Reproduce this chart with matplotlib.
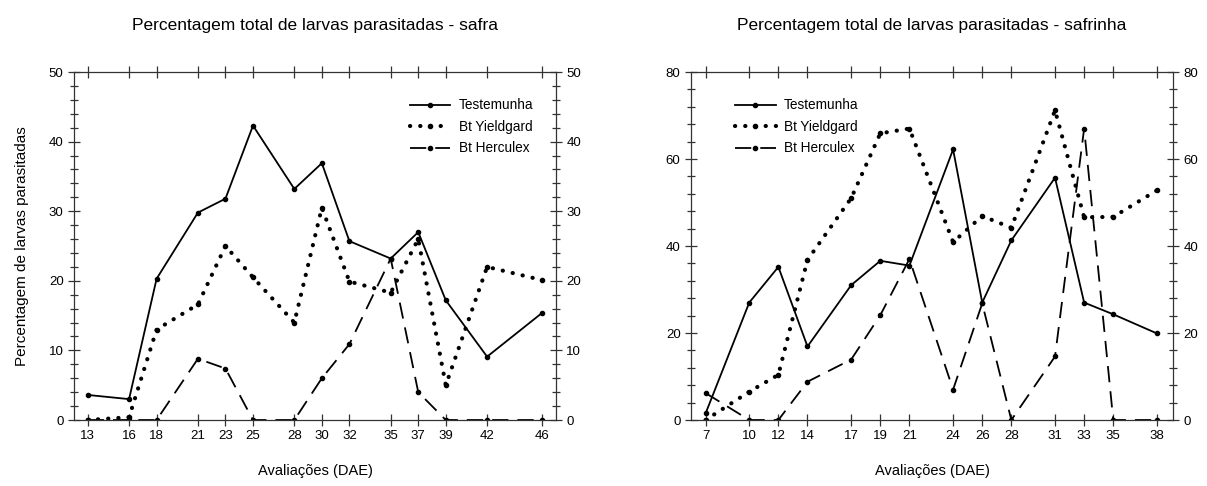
import matplotlib
matplotlib.use("Agg")
import matplotlib.pyplot as plt
from matplotlib.ticker import MultipleLocator, FixedLocator

plt.rcParams['font.family'] = ['Liberation Sans', 'DejaVu Sans']

# safra
dae_safra = [13, 16, 18, 21, 23, 25, 28, 30, 32, 35, 37, 39, 42, 46]
test_safra = [3.6, 3.0, 20.3, 29.8, 31.8, 42.3, 33.2, 36.9, 25.7, 23.2, 27.0, 17.2, 9.1, 15.4]
yield_safra = [0.0, 0.4, 13.0, 16.6, 25.0, 20.5, 14.0, 30.5, 19.9, 18.3, 26.0, 5.0, 22.0, 20.1]
herc_safra = [0.0, 0.0, 0.0, 8.8, 7.4, 0.0, 0.0, 6.0, 10.9, 23.2, 4.0, 0.0, 0.0, 0.0]

# safrinha
dae_safrinha = [7, 10, 12, 14, 17, 19, 21, 24, 26, 28, 31, 33, 35, 38]
test_safrinha = [1.5, 27.0, 35.2, 16.9, 31.0, 36.6, 35.5, 62.2, 27.0, 41.3, 55.7, 27.0, 24.3, 19.9]
yield_safrinha = [0.0, 6.5, 10.4, 36.8, 51.0, 65.9, 67.0, 40.9, 46.9, 44.2, 71.2, 46.6, 46.7, 52.8]
herc_safrinha = [6.2, 0.0, 0.0, 8.8, 13.9, 24.1, 37.0, 7.0, 26.8, 0.0, 14.6, 67.0, 0.0, 0.0]

labels = ['Testemunha', 'Bt Yieldgard', 'Bt Herculex']


def plot_panel(ax, x, ys, xlim, ylim, ystep, yminor, title, legend_anchor, show_ylabel):
    t, yg, hc = ys
    ax.plot(x, t, color='black', lw=1.3, marker='o', ms=3, label=labels[0])
    ax.plot(x, yg, color='black', lw=3.0, linestyle=(0, (0.05, 2.4)),
            dash_capstyle='round', marker='o', ms=3, label=labels[1])
    ax.plot(x, hc, color='black', lw=1.3, linestyle=(0, (9, 5)),
            marker='o', ms=3, label=labels[2])

    ax.set_xlim(*xlim)
    ax.set_ylim(*ylim)
    ax.xaxis.set_major_locator(FixedLocator(x))
    ax.yaxis.set_major_locator(MultipleLocator(ystep))
    ax.yaxis.set_minor_locator(MultipleLocator(yminor))
    ax.tick_params(axis='both', which='both', direction='inout', top=True, right=True,
                   labelright=True, labelsize=9.5, width=0.9, color='#333333')
    ax.tick_params(axis='both', which='major', length=8)
    ax.tick_params(axis='y', which='minor', length=6)
    ax.tick_params(axis='x', which='major', pad=3)
    for s in ax.spines.values():
        s.set_linewidth(0.9)
        s.set_color('#333333')

    ax.set_xlabel('Avaliações (DAE)', fontsize=10.5, labelpad=16)
    if show_ylabel:
        ax.set_ylabel('Percentagem de larvas parasitadas', fontsize=11, labelpad=14)
    ax.set_title(title, fontsize=12.5, pad=30)
    ax.legend(loc='upper left', bbox_to_anchor=legend_anchor, frameon=False,
              fontsize=9.8, handlelength=3.0, numpoints=1, labelspacing=0.55,
              handletextpad=0.6, borderaxespad=0)


fig = plt.figure(figsize=(12.07, 4.86), dpi=100)
ax1 = fig.add_axes([0.0613, 0.1358, 0.3993, 0.716])
ax2 = fig.add_axes([0.5725, 0.1358, 0.3993, 0.716])

plot_panel(ax1, dae_safra, (test_safra, yield_safra, herc_safra), (12, 47), (0, 50), 10, 2,
           'Percentagem total de larvas parasitadas - safra', (0.685, 0.94), True)
plot_panel(ax2, dae_safrinha, (test_safrinha, yield_safrinha, herc_safrinha), (6, 39.1), (0, 80), 20, 4,
           'Percentagem total de larvas parasitadas - safrinha', (0.08, 0.94), False)

fig.savefig('out.png', dpi=100)
